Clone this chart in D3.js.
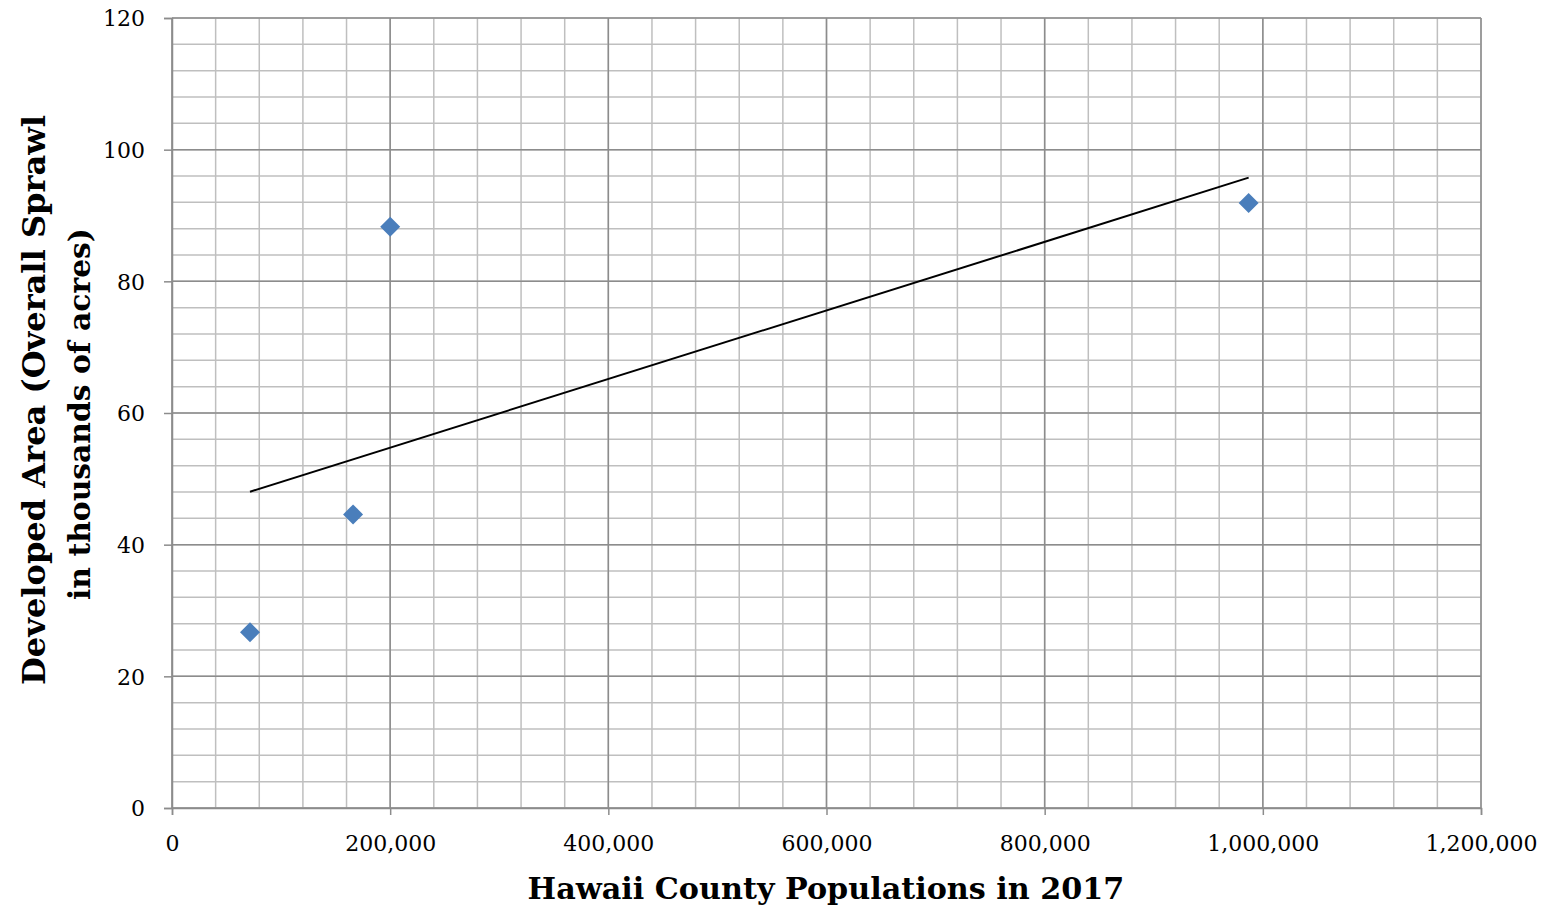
<!DOCTYPE html>
<html><head><meta charset="utf-8">
<script src="https://cdn.jsdelivr.net/npm/d3@7"></script>
<style>body{margin:0;background:#fff;} svg{display:block;}</style>
</head><body>
<svg id="chart" width="1550" height="911"></svg>
<script>
const population = [71500, 166000, 200000, 987000];
const developedArea = [26.7, 44.6, 88.3, 91.9];
const xTicks = [0, 200000, 400000, 600000, 800000, 1000000, 1200000];
const yTicks = [0, 20, 40, 60, 80, 100, 120];
const xTitle = "Hawaii County Populations in 2017";
const yTitleLines = ["Developed Area (Overall Sprawl", "in thousands of acres)"];

const svg = d3.select("#chart");
const m = {left:172, right:1481, top:18, bottom:808};
const x = d3.scaleLinear().domain([0,1200000]).range([m.left, m.right]);
const y = d3.scaleLinear().domain([0,120]).range([m.bottom, m.top]);
const font = "'DejaVu Serif', 'Liberation Serif', serif";

// fit a text element's font size so its width equals target
function fitWidth(sel, target) {
  const fs = +sel.attr("font-size");
  const w = sel.node().getComputedTextLength();
  if (w > 0) sel.attr("font-size", (fs * target / w).toFixed(2));
}

// minor grid
const xMinor = d3.range(0, 1200001, 40000);
const yMinor = d3.range(0, 121, 4);
const g = svg.append("g");
g.selectAll("line.xm").data(xMinor).join("line")
  .attr("x1", d=>x(d)).attr("x2", d=>x(d)).attr("y1", m.top).attr("y2", m.bottom)
  .attr("stroke", "#bfbfbf").attr("stroke-width", 1.5);
g.selectAll("line.ym").data(yMinor).join("line")
  .attr("y1", d=>y(d)).attr("y2", d=>y(d)).attr("x1", m.left).attr("x2", m.right)
  .attr("stroke", "#bfbfbf").attr("stroke-width", 1.5);
// major grid
g.selectAll("line.xM").data(xTicks).join("line")
  .attr("x1", d=>x(d)).attr("x2", d=>x(d)).attr("y1", m.top).attr("y2", m.bottom)
  .attr("stroke", "#8c8c8c").attr("stroke-width", 1.5);
g.selectAll("line.yM").data(yTicks).join("line")
  .attr("y1", d=>y(d)).attr("y2", d=>y(d)).attr("x1", m.left).attr("x2", m.right)
  .attr("stroke", "#8c8c8c").attr("stroke-width", 1.5);

// axes
const xAxis = d3.axisBottom(x).tickValues(xTicks).tickSize(7)
  .tickFormat(d3.format(","));
const yAxis = d3.axisLeft(y).tickValues(yTicks).tickSize(8)
  .tickFormat(d3.format("d"));
const gx = svg.append("g").attr("transform", `translate(0,${m.bottom})`).call(xAxis);
const gy = svg.append("g").attr("transform", `translate(${m.left},0)`).call(yAxis);
[gx, gy].forEach(a => {
  a.select(".domain").attr("stroke", "#8c8c8c").attr("stroke-width", 1.5);
  a.selectAll(".tick line").attr("stroke", "#8c8c8c").attr("stroke-width", 1.5);
  a.selectAll("text").attr("font-family", font).attr("font-size", 22).attr("fill", "#000");
});
gx.selectAll("text").attr("y", 43).attr("dy", 0);
gy.selectAll("text").attr("x", -27).attr("dy", "0.36em");

// trend line (least squares fit of the data)
const mx = d3.mean(population), my = d3.mean(developedArea);
const slope = d3.sum(population.map((v,i)=>(v-mx)*(developedArea[i]-my))) /
              d3.sum(population.map(v=>(v-mx)*(v-mx)));
const icpt = my - slope*mx;
const xMin = d3.min(population), xMax = d3.max(population);
svg.append("line")
  .attr("x1", x(xMin)).attr("y1", y(icpt + slope*xMin))
  .attr("x2", x(xMax)).attr("y2", y(icpt + slope*xMax))
  .attr("stroke", "#000").attr("stroke-width", 2);

// points
svg.selectAll("path.pt").data(population).join("path")
  .attr("d", d3.symbol(d3.symbolSquare, 200)())
  .attr("transform", (d,i)=>`translate(${x(d)},${y(developedArea[i])}) rotate(45)`)
  .attr("fill", "#4a7ebb");

// titles
const xt = svg.append("text").attr("x", 826).attr("y", 899).attr("text-anchor", "middle")
  .attr("font-family", font).attr("font-weight", "bold").attr("font-size", 30)
  .text(xTitle);
fitWidth(xt, 597);
const yt1 = svg.append("text").attr("transform", "translate(45,400) rotate(-90)")
  .attr("text-anchor", "middle").attr("font-family", font).attr("font-weight", "bold")
  .attr("font-size", 28).text(yTitleLines[0]);
fitWidth(yt1, 570);
const yt2 = svg.append("text").attr("transform", "translate(90,414) rotate(-90)")
  .attr("text-anchor", "middle").attr("font-family", font).attr("font-weight", "bold")
  .attr("font-size", 28).text(yTitleLines[1]);
fitWidth(yt2, 372);
</script>
</body></html>
